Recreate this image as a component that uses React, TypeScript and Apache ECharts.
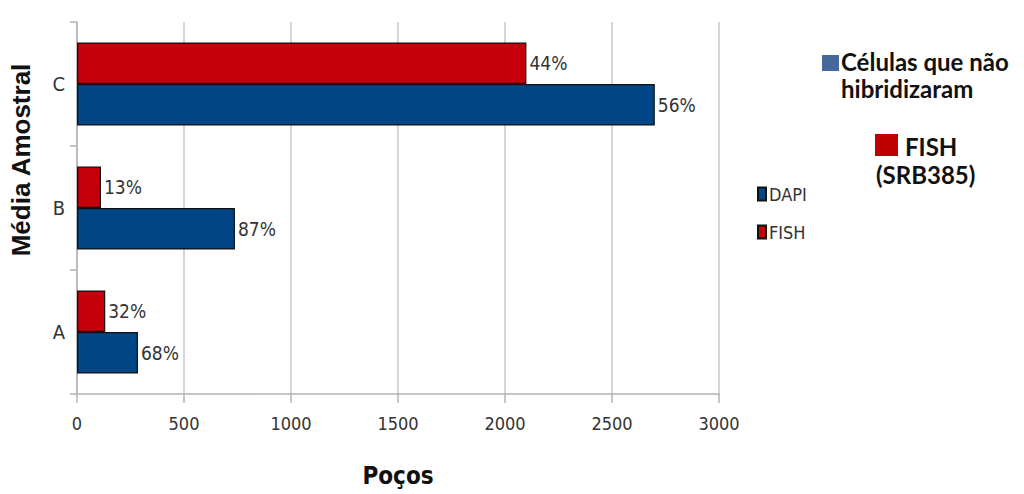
import React, { useEffect, useRef } from "react";
import * as echarts from "echarts";

// Sample groups, listed bottom to top on the category axis
const categories = ["A", "B", "C"];
// Well counts per group
const dapiValues = [285, 738, 2700];
const fishValues = [132, 112, 2100];
// Share of each series within its group, shown beside the bars
const dapiShare = ["68%", "87%", "56%"];
const fishShare = ["32%", "13%", "44%"];
const xTicks = { min: 0, max: 3000, interval: 500 };

const NARROW = "'Liberation Sans Narrow', 'DejaVu Sans Condensed', sans-serif";
const BOLD_SANS = "Lato, 'Open Sans', sans-serif";

const BLUE = "#004586";
const RED = "#c5000b";

export default function App() {
  const ref = useRef<HTMLDivElement>(null);

  useEffect(() => {
    if (!ref.current) return;
    const chart = echarts.init(ref.current, null, { renderer: "svg" });

    const labelStyle = {
      show: true,
      position: "right" as const,
      distance: 3,
      color: "#333",
      fontFamily: NARROW,
      fontSize: 19,
    };

    chart.setOption({
      animation: false,
      backgroundColor: "#ffffff",
      grid: { left: 77, right: 305, top: 22, bottom: 100 },
      legend: {
        orient: "vertical",
        left: 752,
        top: 180,
        itemWidth: 8,
        itemHeight: 13,
        itemGap: 20,
        icon: "rect",
        textStyle: { color: "#333", fontFamily: NARROW, fontSize: 18, padding: [0, 0, 0, -2] },
        data: ["DAPI", "FISH"],
      },
      xAxis: {
        type: "value",
        min: xTicks.min,
        max: xTicks.max,
        interval: xTicks.interval,
        name: "Poços",
        nameLocation: "middle",
        nameGap: 70,
        nameTextStyle: { color: "#111", fontFamily: NARROW, fontWeight: "bold", fontSize: 24 },
        axisLine: { show: true, lineStyle: { color: "#b3b3b3", width: 1.5 } },
        axisTick: { show: true, length: 9, lineStyle: { color: "#b3b3b3", width: 1.5 } },
        axisLabel: {
          color: "#333",
          fontFamily: NARROW,
          fontSize: 18,
          margin: 20,
          formatter: (v: number) => String(v),
        },
        splitLine: { show: true, lineStyle: { color: "#c8c8c8", width: 1.5 } },
      },
      yAxis: {
        type: "category",
        data: categories,
        axisLine: { show: true, lineStyle: { color: "#b3b3b3", width: 1.5 } },
        axisTick: { show: true, length: 7, lineStyle: { color: "#b3b3b3", width: 1.5 } },
        axisLabel: { color: "#333", fontFamily: NARROW, fontSize: 20, margin: 12 },
        splitLine: { show: false },
      },
      series: [
        {
          name: "FISH",
          type: "bar",
          data: fishValues,
          barGap: "0%",
          barCategoryGap: "33%",
          itemStyle: { color: RED, borderColor: "#111", borderWidth: 1.2 },
          label: { ...labelStyle, formatter: (p: any) => fishShare[p.dataIndex] },
        },
        {
          name: "DAPI",
          type: "bar",
          data: dapiValues,
          barGap: "0%",
          barCategoryGap: "33%",
          itemStyle: { color: BLUE, borderColor: "#111", borderWidth: 1.2 },
          label: { ...labelStyle, formatter: (p: any) => dapiShare[p.dataIndex] },
        },
      ],
      graphic: [
        // vertical axis title
        {
          type: "text",
          x: 21,
          y: 160,
          rotation: Math.PI / 2,
          style: {
            text: "Média Amostral",
            fill: "#111",
            font: "bold 26px 'Liberation Sans', Arial, sans-serif",
            align: "center",
            verticalAlign: "middle",
          },
        },
        { type: "rect", left: 822, top: 55, shape: { width: 17, height: 16 }, style: { fill: "#45699b" } },
        {
          type: "text",
          x: 841,
          y: 61,
          style: {
            text: "Células que não",
            fill: "#111",
            font: `bold 24px ${BOLD_SANS}`,
            verticalAlign: "middle",
          },
        },
        {
          type: "text",
          x: 841,
          y: 88,
          style: {
            text: "hibridizaram",
            fill: "#111",
            font: `bold 24px ${BOLD_SANS}`,
            verticalAlign: "middle",
          },
        },
        { type: "rect", left: 875, top: 134, shape: { width: 23, height: 22 }, style: { fill: "#c00000" } },
        {
          type: "text",
          x: 905,
          y: 146,
          style: { text: "FISH", fill: "#111", font: `bold 24px ${BOLD_SANS}`, verticalAlign: "middle" },
        },
        {
          type: "text",
          x: 876,
          y: 174,
          style: { text: "(SRB385)", fill: "#111", font: `bold 24px ${BOLD_SANS}`, verticalAlign: "middle" },
        },
      ],
    });

    return () => chart.dispose();
  }, []);

  return (
    <div
      ref={ref}
      style={{ position: "fixed", left: 0, top: 0, width: 1024, height: 494 }}
    />
  );
}
